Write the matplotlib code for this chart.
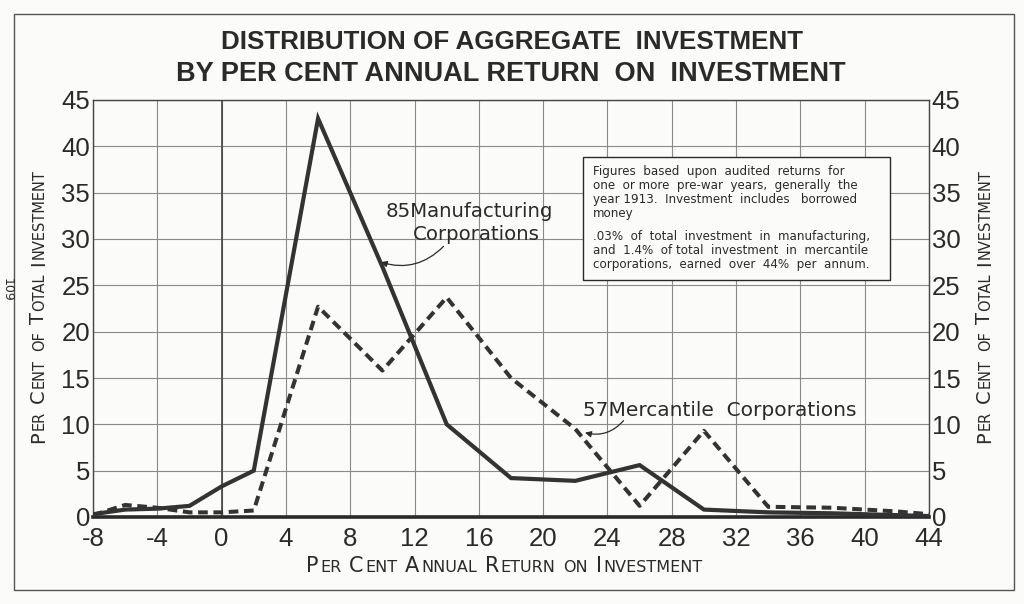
import matplotlib
matplotlib.use("Agg")
import matplotlib.pyplot as plt
from matplotlib.patches import Rectangle

# Data
returns = [-8, -6, -4, -2, 0, 2, 6, 10, 14, 18, 22, 26, 30, 34, 38, 42, 44]
manufacturing = [0.3, 0.8, 0.9, 1.2, 3.3, 5.0, 43.0, 27.0, 10.0, 4.2, 3.9, 5.6, 0.8, 0.5, 0.4, 0.2, 0.1]
mercantile = [0.2, 1.3, 1.0, 0.5, 0.5, 0.7, 22.7, 15.8, 23.7, 15.0, 9.5, 1.2, 9.3, 1.1, 1.0, 0.6, 0.3]

x_ticks = list(range(-8, 45, 4))
y_ticks = list(range(0, 46, 5))

title_lines = ["DISTRIBUTION OF AGGREGATE  INVESTMENT",
               "BY PER CENT ANNUAL RETURN  ON  INVESTMENT"]
note_para1 = [
    "Figures  based  upon  audited  returns  for",
    "one  or more  pre-war  years,  generally  the",
    "year 1913.  Investment  includes   borrowed",
    "money",
]
note_para2 = [
    ".03%  of  total  investment  in  manufacturing,",
    "and  1.4%  of total  investment  in  mercantile",
    "corporations,  earned  over  44%  per  annum.",
]

plt.rcParams["axes.unicode_minus"] = False

INK = "#2a2a2a"
PAPER = "#fbfbf9"

fig = plt.figure(figsize=(10.24, 6.04), dpi=100, facecolor=PAPER)
renderer = fig.canvas.get_renderer()
ax = fig.add_axes([93 / 1024, 87 / 604, 836 / 1024, 417 / 604])
ax.set_facecolor(PAPER)

ax.plot(returns, manufacturing, color="#333333", lw=3.0, solid_joinstyle="miter", zorder=4)
ax.plot(returns, mercantile, color="#333333", lw=2.9, dashes=(2.4, 1.4), zorder=4)

ax.set_xlim(-8, 44)
ax.set_ylim(0, 45)
ax.set_xticks(x_ticks)
ax.set_yticks(y_ticks)
ax.grid(True, color="#8a8a8a", lw=0.8)
ax.axvline(0, color="#444444", lw=1.2, zorder=2)
ax.tick_params(length=0, labelsize=18.5, colors=INK)
ax.tick_params(axis="x", pad=7)
ax.tick_params(axis="y", right=True, labelright=True, pad=2)
for lab in ax.get_xticklabels() + ax.get_yticklabels():
    lab.set_family("Liberation Sans")
for side in ["left", "right", "top"]:
    ax.spines[side].set_color("#444444")
    ax.spines[side].set_linewidth(1.0)
ax.spines["bottom"].set_color(INK)
ax.spines["bottom"].set_linewidth(2.6)

# series labels with curved pointers
ax.text(10.2, 32.4, "85Manufacturing", fontsize=14.2, color=INK, va="baseline")
ax.text(11.9, 29.9, "Corporations", fontsize=14.2, color=INK, va="baseline")
ax.annotate("", xy=(9.9, 27.5), xytext=(13.8, 29.2),
            arrowprops=dict(arrowstyle="-|>", color=INK, lw=0.9, mutation_scale=9,
                            shrinkA=0, shrinkB=0, connectionstyle="arc3,rad=-0.3"))
ax.text(22.5, 10.9, "57Mercantile  Corporations", fontsize=14.5, color=INK, va="baseline")
ax.annotate("", xy=(22.6, 9.1), xytext=(25.0, 10.4),
            arrowprops=dict(arrowstyle="-|>", color=INK, lw=0.9, mutation_scale=9,
                            shrinkA=0, shrinkB=0, connectionstyle="arc3,rad=-0.3"))

# note box
box = Rectangle((22.5, 25.6), 19.1, 13.2, facecolor=PAPER, edgecolor=INK, lw=1.0, zorder=5)
ax.add_patch(box)
for i, line in enumerate(note_para1):
    ax.text(23.1, 37.3 - i * 1.5, line, fontsize=8.6, color=INK, va="center", zorder=6)
for i, line in enumerate(note_para2):
    ax.text(23.1, 30.3 - i * 1.5, line, fontsize=8.6, color=INK, va="center", zorder=6)


def fitted_text(x, y, s, width_px, size, **kw):
    # shrink the lettering so the line spans the same width as in the original
    t = fig.text(x / 1024, 1 - y / 604, s, fontsize=size, **kw)
    w = t.get_window_extent(renderer).width
    if w > width_px:
        t.set_fontsize(size * width_px / w)
    return t


# title
fitted_text(512, 42, title_lines[0], 583, 21, ha="center", va="center",
            fontweight="bold", family="Liberation Sans", color=INK)
fitted_text(511, 74, title_lines[1], 668, 21, ha="center", va="center",
            fontweight="bold", family="Liberation Sans", color=INK)


def small_caps(x, y, text, big, small, rotation=0):
    # draw text in small caps, piece by piece, centred on (x, y) in figure pixels
    pieces = []
    for word in text.split():
        if word[0].isupper():
            pieces.append((word[0], big))
            if len(word) > 1:
                pieces.append((word[1:].upper(), small))
        else:
            pieces.append((word.upper(), small))
        pieces.append((None, big * 0.42))
    pieces = pieces[:-1]
    made = []
    total = 0.0
    for s, size in pieces:
        if s is None:
            made.append((None, size))
            total += size
            continue
        t = fig.text(0, 0, s, fontsize=size, color=INK, rotation=rotation,
                     rotation_mode="anchor", ha="left", va="baseline")
        bb = t.get_window_extent(renderer)
        adv = bb.height if rotation else bb.width
        made.append((t, adv))
        total += adv + 1.5
    pos = -total / 2
    for t, adv in made:
        if t is None:
            pos += adv
            continue
        if rotation:
            t.set_position((x / 1024, (y + pos) / 604))
        else:
            t.set_position(((x + pos) / 1024, y / 604))
        pos += adv + 1.5


small_caps(505, 604 - 572, "Per Cent Annual Return on Investment", 15, 11.5)
small_caps(44, 604 - 305, "Per Cent of Total Investment", 14, 10.5, rotation=90)
small_caps(990, 604 - 305, "Per Cent of Total Investment", 14, 10.5, rotation=90)

# page frame and page number
fig.add_artist(Rectangle((14 / 1024, 14 / 604), 1000 / 1024, 576 / 604, transform=fig.transFigure,
                         fill=False, edgecolor="#555555", lw=1.0))
fig.text(7 / 1024, 1 - 290 / 604, "109", rotation=-90, fontsize=9, color=INK,
         ha="center", va="center")

fig.savefig("out.png", dpi=100, facecolor=PAPER)
